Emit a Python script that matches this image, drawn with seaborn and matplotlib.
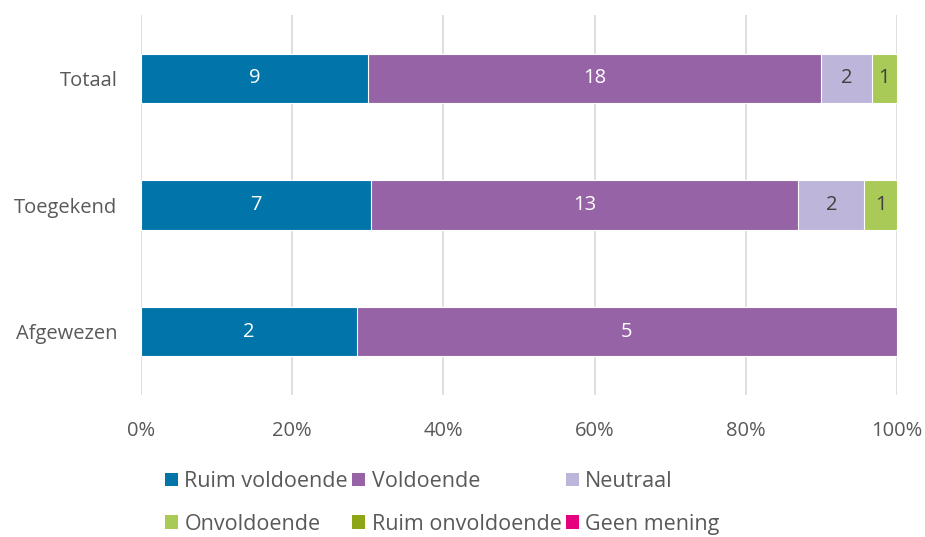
import numpy as np
import pandas as pd
import matplotlib.pyplot as plt
import seaborn as sns
from matplotlib.patches import Patch

# --- data ---
categorieen = ['Totaal', 'Toegekend', 'Afgewezen']
reeksen = ['Ruim voldoende', 'Voldoende', 'Neutraal', 'Onvoldoende', 'Ruim onvoldoende', 'Geen mening']
ruim_voldoende = [9, 7, 2]
voldoende = [18, 13, 5]
neutraal = [2, 2, 0]
onvoldoende = [1, 1, 0]
ruim_onvoldoende = [0, 0, 0]
geen_mening = [0, 0, 0]

kleuren = ['#0175A9', '#9664A6', '#BEB5DA', '#A9CA56', '#8CA616', '#E5007D']
label_kleur = ['white', 'white', '#404040', '#404040', 'white', 'white']

aantallen = np.array([ruim_voldoende, voldoende, neutraal, onvoldoende, ruim_onvoldoende, geen_mening], dtype=float)
pct = aantallen / aantallen.sum(axis=0) * 100
cum = pct.cumsum(axis=0)

sns.set_style('white')
plt.rcParams['font.family'] = ['Open Sans', 'DejaVu Sans']

fig = plt.figure(figsize=(9.25, 5.37), dpi=100)
ax = fig.add_axes([141 / 925, 1 - 395 / 537, (897 - 141) / 925, (395 - 15) / 537])

# overlappende cumulatieve balken, van achter naar voren
for i in range(len(reeksen) - 1, -1, -1):
    df = pd.DataFrame({'cat': categorieen, 'val': cum[i]})
    sns.barplot(data=df, x='val', y='cat', orient='h', color=kleuren[i], width=0.39,
                saturation=1, edgecolor='white', linewidth=0.8, ax=ax, zorder=3)

# labels
for i in range(len(reeksen)):
    for j, c in enumerate(categorieen):
        if aantallen[i, j] > 0:
            ax.text(cum[i, j] - pct[i, j] / 2, j, f'{int(aantallen[i, j])}',
                    ha='center', va='center', color=label_kleur[i], fontsize=14.5, zorder=5)

ax.set_xlim(0, 100)
ax.set_ylim(2.5, -0.5)
ax.set_xticks(np.arange(0, 101, 20))
ax.set_xticklabels([f'{v}%' for v in range(0, 101, 20)])
ax.grid(axis='x', color='#D9D9D9', linewidth=1.2, zorder=0)
ax.set_axisbelow(True)
for s in ax.spines.values():
    s.set_visible(False)
ax.set_xlabel('')
ax.set_ylabel('')
ax.tick_params(axis='both', length=0, labelsize=14.5, colors='#595959')
ax.tick_params(axis='x', pad=19)
ax.tick_params(axis='y', pad=17)

# legenda, rijgewijs
volgorde = [0, 3, 1, 4, 2, 5]
handles = [Patch(facecolor=kleuren[k], edgecolor='none') for k in volgorde]
labels = [reeksen[k] for k in volgorde]
fig.legend(handles, labels, ncol=3, loc='upper left', bbox_to_anchor=(165 / 925, 1 - 471 / 537),
           frameon=False, fontsize=15.5, labelcolor='#595959', handlelength=0.6, handleheight=0.6,
           handletextpad=0.3, columnspacing=0.2, labelspacing=1.0, borderpad=0, borderaxespad=0)

fig.savefig('out.png', dpi=100)
